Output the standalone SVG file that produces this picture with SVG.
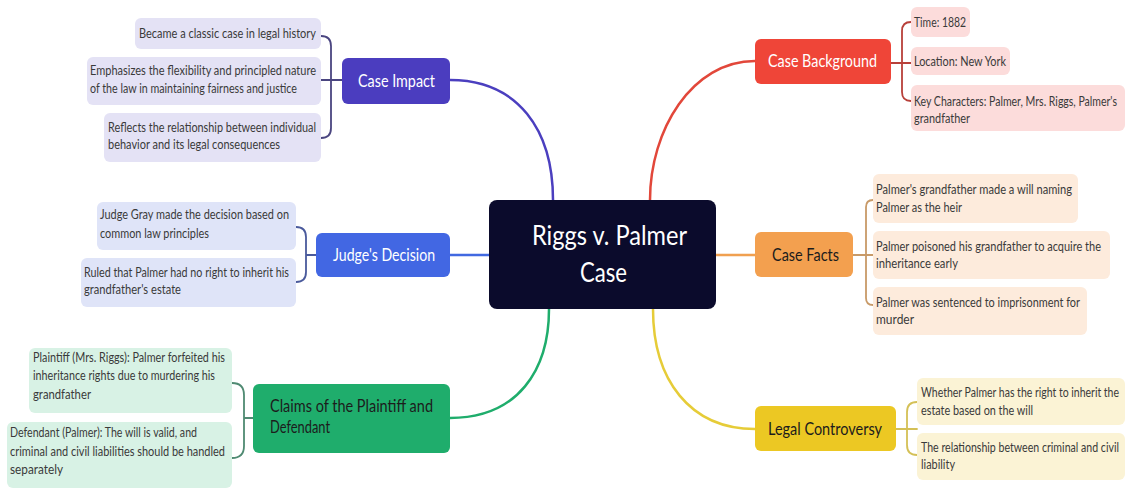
<svg xmlns="http://www.w3.org/2000/svg" width="1126" height="489" viewBox="0 0 1126 489">
<style>
text{font-family:"Lato","Liberation Sans",sans-serif}
.leaf{font-size:13px;fill:#3a3a3a}
.br{font-size:16.5px}
.w{fill:#ffffff}
.d{fill:#1c1c1c}
.con{fill:none;stroke-width:2.5;stroke-linecap:round}
.bk{fill:none;stroke-width:1.8;stroke-linecap:round}
</style>
<rect width="1126" height="489" fill="#ffffff"/>
<g id="connectors">
<path class="con" stroke="#4b3fbf" d="M450,80 C518,80 553,130 553,200"/>
<path class="con" stroke="#4169e1" d="M450,255 H489"/>
<path class="con" stroke="#1fad6c" d="M450,418 C518,418 549,370 549,309"/>
<path class="con" stroke="#e2473a" d="M755,61 C692,61 650,130 650,200"/>
<path class="con" stroke="#f0a050" d="M716,255 H755"/>
<path class="con" stroke="#e6cc38" d="M755,429 C690,429 653,380 653,309"/>
<path class="bk" stroke="#4a4580" d="M321,36 Q331,36 331,46 V128 Q331,138 321,138 M321,80 H342"/>
<path class="bk" stroke="#4a5a9c" d="M296,227 Q306,227 306,237 V272 Q306,282 296,282 M306,255 H316"/>
<path class="bk" stroke="#4f8a72" d="M232,383 Q244,383 244,395 V446 Q244,458 232,458 M244,418 H253"/>
<path class="bk" stroke="#b8403a" d="M911,22 Q902,22 902,31 V92 Q902,101 911,101 M891,63 H911"/>
<path class="bk" stroke="#c89a68" d="M873,200 Q866,200 866,207 V298 Q866,305 873,305 M853,255 H873"/>
<path class="bk" stroke="#d4c056" d="M917,402 Q907,402 907,412 V445 Q907,455 917,455 M896,429 H917"/>
</g>
<g id="center">
<rect x="489" y="200" width="227" height="109" rx="8" fill="#0b0b2c"/>
<text x="532" y="245" font-size="26" fill="#ffffff" textLength="155" lengthAdjust="spacingAndGlyphs">Riggs v. Palmer</text>
<text x="580" y="282" font-size="26" fill="#ffffff" textLength="47" lengthAdjust="spacingAndGlyphs">Case</text>
</g>
<g id="case-impact">
<rect x="342" y="58" width="108" height="46" rx="6" fill="#4b3dbf"/>
<text class="br w" x="358" y="87" textLength="77" lengthAdjust="spacingAndGlyphs">Case Impact</text>
</g>
<g id="impact-1">
<rect x="135" y="18" width="186" height="31" rx="6" fill="#e4e2f5"/>
<text class="leaf" x="139" y="38" textLength="177" lengthAdjust="spacingAndGlyphs">Became a classic case in legal history</text>
</g>
<g id="impact-2">
<rect x="87" y="57" width="234" height="48" rx="6" fill="#e4e2f5"/>
<text class="leaf" x="90" y="75" textLength="226" lengthAdjust="spacingAndGlyphs">Emphasizes the flexibility and principled nature</text>
<text class="leaf" x="90" y="93" textLength="207" lengthAdjust="spacingAndGlyphs">of the law in maintaining fairness and justice</text>
</g>
<g id="impact-3">
<rect x="104" y="113" width="217" height="49" rx="6" fill="#e4e2f5"/>
<text class="leaf" x="108" y="132" textLength="208" lengthAdjust="spacingAndGlyphs">Reflects the relationship between individual</text>
<text class="leaf" x="108" y="149" textLength="172" lengthAdjust="spacingAndGlyphs">behavior and its legal consequences</text>
</g>
<g id="judges-decision">
<rect x="316" y="233" width="134" height="44" rx="6" fill="#4267e3"/>
<text class="br w" x="333" y="261" textLength="102" lengthAdjust="spacingAndGlyphs">Judge's Decision</text>
</g>
<g id="judge-1">
<rect x="97" y="202" width="199" height="48" rx="6" fill="#dfe4f8"/>
<text class="leaf" x="100" y="219" textLength="189" lengthAdjust="spacingAndGlyphs">Judge Gray made the decision based on</text>
<text class="leaf" x="100" y="238" textLength="109" lengthAdjust="spacingAndGlyphs">common law principles</text>
</g>
<g id="judge-2">
<rect x="81" y="258" width="215" height="49" rx="6" fill="#dfe4f8"/>
<text class="leaf" x="84" y="277" textLength="205" lengthAdjust="spacingAndGlyphs">Ruled that Palmer had no right to inherit his</text>
<text class="leaf" x="84" y="294" textLength="97" lengthAdjust="spacingAndGlyphs">grandfather's estate</text>
</g>
<g id="claims">
<rect x="253" y="384" width="197" height="69" rx="6" fill="#1fad6c"/>
<text class="br d" x="270" y="412" textLength="163" lengthAdjust="spacingAndGlyphs">Claims of the Plaintiff and</text>
<text class="br d" x="270" y="433" textLength="60" lengthAdjust="spacingAndGlyphs">Defendant</text>
</g>
<g id="claims-1">
<rect x="29" y="348" width="203" height="65" rx="6" fill="#d8f2e5"/>
<text class="leaf" x="33" y="362" textLength="192" lengthAdjust="spacingAndGlyphs">Plaintiff (Mrs. Riggs): Palmer forfeited his</text>
<text class="leaf" x="33" y="380" textLength="182" lengthAdjust="spacingAndGlyphs">inheritance rights due to murdering his</text>
<text class="leaf" x="33" y="399" textLength="58" lengthAdjust="spacingAndGlyphs">grandfather</text>
</g>
<g id="claims-2">
<rect x="7" y="422" width="225" height="66" rx="6" fill="#d8f2e5"/>
<text class="leaf" x="10" y="437" textLength="187" lengthAdjust="spacingAndGlyphs">Defendant (Palmer): The will is valid, and</text>
<text class="leaf" x="10" y="456" textLength="215" lengthAdjust="spacingAndGlyphs">criminal and civil liabilities should be handled</text>
<text class="leaf" x="10" y="474" textLength="53" lengthAdjust="spacingAndGlyphs">separately</text>
</g>
<g id="case-background">
<rect x="755" y="39" width="136" height="45" rx="6" fill="#ef4538"/>
<text class="br w" x="768" y="67" textLength="109" lengthAdjust="spacingAndGlyphs">Case Background</text>
</g>
<g id="bg-1">
<rect x="911" y="7" width="59" height="30" rx="6" fill="#fcdcdb"/>
<text class="leaf" x="914" y="27" textLength="52" lengthAdjust="spacingAndGlyphs">Time: 1882</text>
</g>
<g id="bg-2">
<rect x="911" y="47" width="99" height="28" rx="6" fill="#fcdcdb"/>
<text class="leaf" x="914" y="66" textLength="92" lengthAdjust="spacingAndGlyphs">Location: New York</text>
</g>
<g id="bg-3">
<rect x="911" y="85" width="214" height="46" rx="6" fill="#fcdcdb"/>
<text class="leaf" transform="translate(914,106) scale(0.8,1)" x="0" y="0" textLength="253.75" lengthAdjust="spacingAndGlyphs">Key Characters: Palmer, Mrs. Riggs, Palmer's</text>
<text class="leaf" x="914" y="123" textLength="56" lengthAdjust="spacingAndGlyphs">grandfather</text>
</g>
<g id="case-facts">
<rect x="755" y="232" width="98" height="45" rx="6" fill="#f3a04f"/>
<text class="br d" x="772" y="261" textLength="67" lengthAdjust="spacingAndGlyphs">Case Facts</text>
</g>
<g id="facts-1">
<rect x="873" y="174" width="205" height="49" rx="6" fill="#fdebdc"/>
<text class="leaf" x="876" y="194" textLength="196" lengthAdjust="spacingAndGlyphs">Palmer's grandfather made a will naming</text>
<text class="leaf" x="876" y="212" textLength="86" lengthAdjust="spacingAndGlyphs">Palmer as the heir</text>
</g>
<g id="facts-2">
<rect x="873" y="231" width="237" height="48" rx="6" fill="#fdebdc"/>
<text class="leaf" transform="translate(876,251) scale(0.8,1)" x="0" y="0" textLength="281.25" lengthAdjust="spacingAndGlyphs">Palmer poisoned his grandfather to acquire the</text>
<text class="leaf" x="876" y="268" textLength="82" lengthAdjust="spacingAndGlyphs">inheritance early</text>
</g>
<g id="facts-3">
<rect x="873" y="287" width="214" height="48" rx="6" fill="#fdebdc"/>
<text class="leaf" x="876" y="307" textLength="204" lengthAdjust="spacingAndGlyphs">Palmer was sentenced to imprisonment for</text>
<text class="leaf" x="876" y="324" textLength="38" lengthAdjust="spacingAndGlyphs">murder</text>
</g>
<g id="legal-controversy">
<rect x="755" y="406" width="141" height="45" rx="6" fill="#ecc823"/>
<text class="br d" x="768" y="435" textLength="114" lengthAdjust="spacingAndGlyphs">Legal Controversy</text>
</g>
<g id="legal-1">
<rect x="917" y="378" width="208" height="47" rx="6" fill="#fbf3d5"/>
<text class="leaf" transform="translate(921,397) scale(0.8,1)" x="0" y="0" textLength="247.5" lengthAdjust="spacingAndGlyphs">Whether Palmer has the right to inherit the</text>
<text class="leaf" x="921" y="415" textLength="112" lengthAdjust="spacingAndGlyphs">estate based on the will</text>
</g>
<g id="legal-2">
<rect x="917" y="433" width="208" height="47" rx="6" fill="#fbf3d5"/>
<text class="leaf" transform="translate(921,452) scale(0.8,1)" x="0" y="0" textLength="247.5" lengthAdjust="spacingAndGlyphs">The relationship between criminal and civil</text>
<text class="leaf" x="921" y="469" textLength="34" lengthAdjust="spacingAndGlyphs">liability</text>
</g>
</svg>
